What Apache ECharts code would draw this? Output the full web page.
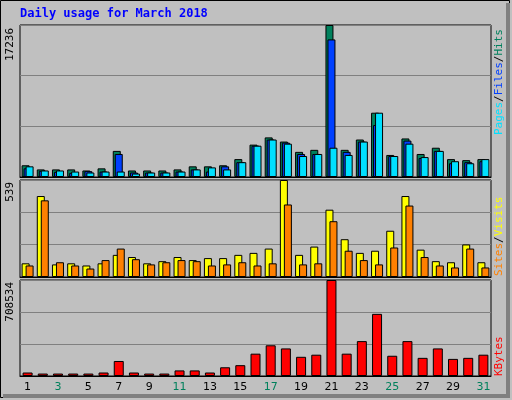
<!DOCTYPE html>
<html><head><meta charset="utf-8">
<script src="https://cdn.jsdelivr.net/npm/echarts@6/dist/echarts.min.js"></script>
<style>html,body{margin:0;padding:0;background:#fff}#c{width:512px;height:400px}</style>
</head><body><div id="c"></div>
<script>
const days = ['1','2','3','4','5','6','7','8','9','10','11','12','13','14','15','16','17','18','19','20','21','22','23','24','25','26','27','28','29','30','31'];
const weekend = ['3','4','10','11','17','18','24','25','31'];
const hits  = [1330,860,860,860,740,980,2960,740,740,740,860,1210,1210,1330,2030,3670,4490,4020,2850,3080,17236,3080,4250,7290,2500,4370,2610,3320,2030,1910,2030];
const files = [980,700,590,470,660,620,2610,510,510,510,620,860,620,1210,1680,3550,4250,3900,2610,2610,15600,2850,4020,5890,2380,4130,2150,2960,1560,1680,1790];
const pages = [1210,740,740,620,510,620,620,390,510,510,620,860,1090,860,1680,3550,4250,3780,2380,2610,3320,2500,4020,7290,2380,3780,2260,2960,1790,1560,2030];
const visits = [76,450,70,76,64,76,123,111,76,88,111,94,105,105,123,134,158,539,123,169,374,210,134,146,257,450,152,88,82,181,82];
const sites  = [64,426,82,64,47,94,158,99,70,82,94,88,64,70,82,64,76,403,70,76,310,146,94,70,164,397,111,64,53,158,53];
const kbytes = [25800,18000,18000,18000,18000,25800,110800,25800,18000,18000,41200,41200,25800,64400,79900,164900,226700,203500,141700,157200,708534,164900,257600,458600,149400,257600,134000,203500,126200,134000,157200];
const maxHits = 17236, maxVis = 539, maxKB = 708534;

const L = 20, R = 21;
const grids = [
  {left:L,right:R,top:25,height:152},
  {left:L,right:R,top:180,height:97},
  {left:L,right:R,top:280,height:96}
];
const bs = {borderColor:'#000',borderWidth:1};
function yAx(i,max){return {gridIndex:i,min:0,max:max,interval:max/3,axisLabel:{show:false},axisTick:{show:false},
  axisLine:{show:false},splitLine:{lineStyle:{color:'#808080',width:1}}};}
function xAx(i,show){return {gridIndex:i,type:'category',data:days,axisTick:{show:false},
  axisLine:{show:true,lineStyle:{color:'#000',width:1}},
  axisLabel:{show:show,margin:6,fontFamily:'DejaVu Sans',fontSize:11,
    color:(v)=>weekend.includes(v)?'#00805C':'#000'}};}
function vtext(x,yBottom,parts,size){ // rotated text reading bottom-to-top
  return {type:'text',x:x,y:yBottom,rotation:Math.PI/2,style:{rich:{
    a:{fill:parts[0][1]}}, text:'', }};
}
const chart = echarts.init(document.getElementById('c'));
const fnt = 'DejaVu Sans Mono';
function rot(x,y,txt,color,align){return {type:'text',x:x,y:y,rotation:Math.PI/2,
  style:{text:txt,fill:color,font:'11px "'+fnt+'"',align:align||'left',verticalAlign:'top'}};}
chart.setOption({
  backgroundColor:'#C0C0C0',
  animation:false,
  grid:grids.map(g=>Object.assign({show:true,backgroundColor:'#C0C0C0',borderColor:'#000',borderWidth:1},g)),
  xAxis:[xAx(0,false),xAx(1,false),xAx(2,true)],
  yAxis:[yAx(0,maxHits),yAx(1,maxVis),yAx(2,maxKB)],
  graphic:[
    {type:'rect',shape:{x:0.5,y:0.5,width:509,height:397},style:{fill:'none',stroke:'#000',lineWidth:1}},
    {type:'rect',shape:{x:506,y:3,width:4,height:394},style:{fill:'#808080'}},
    {type:'rect',shape:{x:3,y:394,width:507,height:4},style:{fill:'#808080'}},
    {type:'text',x:20,y:8,style:{text:'Daily usage for March 2018',fill:'#0000FF',font:'bold 12px "'+fnt+'"'}},
    rot(5,28,'17236','#000','right'),
    rot(5,182,'539','#000','right'),
    rot(5,282,'708534','#000','right'),
    {type:'text',x:494,y:135,rotation:Math.PI/2,style:{rich:{
      p:{fill:'#00E0FF',font:'11px "'+fnt+'"'},f:{fill:'#0040FF',font:'11px "'+fnt+'"'},
      h:{fill:'#00805C',font:'11px "'+fnt+'"'},s:{fill:'#000',font:'11px "'+fnt+'"'}},
      text:'{p|Pages}{s|/}{f|Files}{s|/}{h|Hits}',verticalAlign:'top',align:'left'}},
    {type:'text',x:494,y:276,rotation:Math.PI/2,style:{rich:{
      o:{fill:'#FF8000',font:'11px "'+fnt+'"'},y:{fill:'#FFFF00',font:'11px "'+fnt+'"'},
      s:{fill:'#000',font:'11px "'+fnt+'"'}},
      text:'{o|Sites}{s|/}{y|Visits}',verticalAlign:'top',align:'left'}},
    rot(494,376,'KBytes','#FF0000','left')
  ],
  series:[
    {type:'bar',xAxisIndex:0,yAxisIndex:0,data:hits,barWidth:8,barGap:'-75%',itemStyle:Object.assign({color:'#00805C'},bs)},
    {type:'bar',xAxisIndex:0,yAxisIndex:0,data:files,barWidth:8,barGap:'-75%',itemStyle:Object.assign({color:'#0040FF'},bs)},
    {type:'bar',xAxisIndex:0,yAxisIndex:0,data:pages,barWidth:8,barGap:'-75%',itemStyle:Object.assign({color:'#00E0FF'},bs)},
    {type:'bar',xAxisIndex:1,yAxisIndex:1,data:visits,barWidth:8,barGap:'-50%',itemStyle:Object.assign({color:'#FFFF00'},bs)},
    {type:'bar',xAxisIndex:1,yAxisIndex:1,data:sites,barWidth:8,barGap:'-50%',itemStyle:Object.assign({color:'#FF8000'},bs)},
    {type:'bar',xAxisIndex:2,yAxisIndex:2,data:kbytes,barWidth:10,itemStyle:Object.assign({color:'#FF0000'},bs)}
  ]
});
</script></body></html>
